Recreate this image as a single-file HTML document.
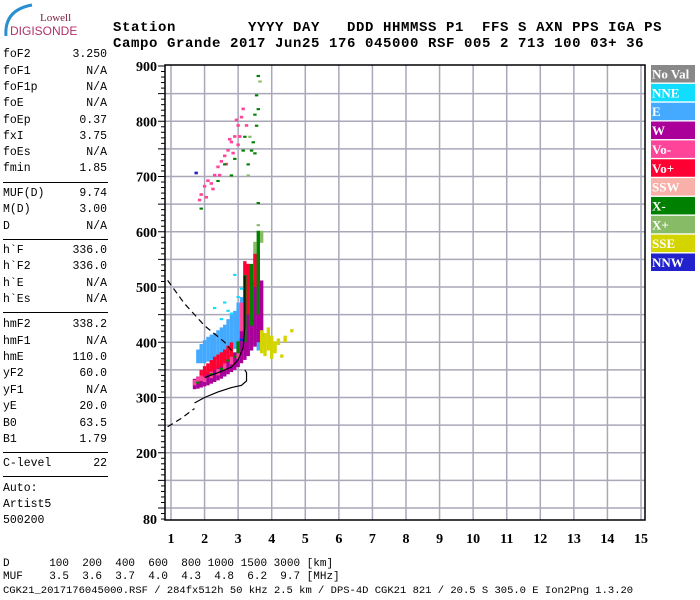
<!DOCTYPE html>
<html><head><meta charset="utf-8">
<style>
body{margin:0;background:#fff;width:700px;height:600px;overflow:hidden;position:relative;font-family:"Liberation Mono",monospace}
.hdr{position:absolute;left:113px;font-weight:bold;font-size:14px;letter-spacing:0.6px;white-space:pre;color:#000}
.row{position:absolute;left:3px;width:104px;font-size:11.5px;height:14px;line-height:14px;color:#000}
.row span{position:absolute;right:0;top:0}
.sep{position:absolute;left:3px;width:105px;height:0;border-top:1px solid #000}
.bot{position:absolute;left:3px;font-size:11px;white-space:pre;color:#000}
</style></head><body>
<div style="position:absolute;left:0;top:0;width:80px;height:45px">
<svg width="80" height="45"><path d="M6 36 Q4 10 32 5" stroke="#2a8fd0" stroke-width="3" fill="none"/></svg>
<div style="position:absolute;left:40px;top:12px;font:11px 'Liberation Serif',serif;color:#7a2040">Lowell</div>
<div style="position:absolute;left:10px;top:24px;font:12px 'Liberation Sans',sans-serif;color:#b0306a">DIGISONDE</div>
</div>
<div class="hdr" style="top:20px">Station        YYYY DAY   DDD HHMMSS P1  FFS S AXN PPS IGA PS</div>
<div class="hdr" style="top:36px">Campo Grande 2017 Jun25 176 045000 RSF 005 2 713 100 03+ 36</div>

<div id="params"></div>

<div class="bot" style="top:558px">D      100  200  400  600  800 1000 1500 3000 [km]</div>
<div class="bot" style="top:571px">MUF    3.5  3.6  3.7  4.0  4.3  4.8  6.2  9.7 [MHz]</div>
<div class="bot" style="top:585px;font-size:10.5px">CGK21_2017176045000.RSF / 284fx512h 50 kHz 2.5 km / DPS-4D CGK21 821 / 20.5 S 305.0 E Ion2Png 1.3.20</div>

<svg id="chart" width="700" height="600" style="position:absolute;left:0;top:0"></svg>

<script>
const paramRows=[["foF2","3.250",55],["foF1","N/A",72],["foF1p","N/A",88],["foE","N/A",104],["foEp","0.37",121],["fxI","3.75",137],["foEs","N/A",153],["fmin","1.85",169],
["MUF(D)","9.74",194],["M(D)","3.00",210],["D","N/A",227],
["h`F","336.0",251],["h`F2","336.0",267],["h`E","N/A",284],["h`Es","N/A",300],
["hmF2","338.2",325],["hmF1","N/A",342],["hmE","110.0",358],["yF2","60.0",374],["yF1","N/A",391],["yE","20.0",407],["B0","63.5",424],["B1","1.79",440],
["C-level","22",464],["Auto:","",489],["Artist5","",505],["500200","",521]];
const seps=[182,239,312,452,476];
const P=document.getElementById('params');
paramRows.forEach(r=>{const d=document.createElement('div');d.className='row';d.style.top=(r[2]-7)+'px';


d.innerHTML=r[0]+(r[1]?'<span>'+r[1]+'</span>':'');P.appendChild(d);});
seps.forEach(y=>{const d=document.createElement('div');d.className='sep';d.style.top=y+'px';


P.appendChild(d);});

const freqTicks=[1,2,3,4,5,6,7,8,9,10,11,12,13,14,15];
const heightTicks=[80,200,300,400,500,600,700,800,900];
const legendNames=["NoVal","NNE","E","W","Vo-","Vo+","SSW","X-","X+","SSE","NNW"];
const legendColors=["#888888","#11ddff","#44aaff","#aa0099","#ff4499","#ff0033","#f8b0a8","#008000","#88bb66","#d4d400","#2222cc"];
// echoes: [freq MHz, hLow km, hHigh km]
const eEchoes=[[1.8,362,385],[1.9,362,395],[2.0,362,402],[2.1,365,408],[2.2,368,412],[2.3,370,415],[2.4,372,420],[2.5,375,425],[2.6,378,430],[2.7,380,440],[2.8,384,448],[2.9,388,455],[3.0,392,470],[3.1,400,480],[3.2,410,470],[3.3,405,465],[3.4,400,455],[3.5,395,445],[3.6,385,430],[3.7,390,415]];
const nneEchoes=[[2.3,460,462],[2.6,470,472],[2.8,450,452],[3.0,480,482],[3.1,495,497],[2.5,440,442],[3.2,490,492],[3.5,545,547],[2.7,455,457],[2.9,520,522]];
const wEchoes=[[1.7,315,332],[1.8,316,336],[1.9,318,340],[2.0,320,343],[2.1,322,346],[2.2,325,350],[2.3,328,354],[2.4,331,358],[2.5,334,362],[2.6,338,366],[2.7,342,370],[2.8,346,375],[2.9,350,380],[3.0,355,390],[3.1,362,420],[3.2,368,480],[3.3,375,540],[3.4,385,510],[3.5,392,505],[3.6,400,560],[3.7,410,510]];
const voPlusEchoes=[[1.9,335,348],[2.0,338,355],[2.1,342,360],[2.2,346,366],[2.3,350,372],[2.4,353,376],[2.5,356,380],[2.6,360,385],[2.7,365,392],[2.8,370,398],[3.2,420,545],[3.3,450,540],[3.5,500,560]];
const voMinusEchoes=[[1.7,322,330],[1.8,325,335],[1.9,330,338],[2.0,328,336],[2.2,335,345],[2.4,340,350],[2.6,350,360],[2.8,360,372],[3.0,370,395],[3.1,420,470],[3.4,440,500],
[1.85,655,658],[1.9,665,668],[2.0,680,683],[2.05,660,663],[2.1,690,693],[2.2,685,688],[2.3,700,703],[2.25,675,678],[2.4,715,718],[2.45,700,703],[2.5,725,728],[2.6,735,738],[2.7,745,748],[2.65,720,723],[2.8,760,763],[2.9,770,773],[2.85,740,743],[3.0,790,793],[3.05,770,773],[3.1,805,808],[3.15,820,823],[3.0,755,758],[2.95,800,803],[3.25,790,793],[2.75,765,768]];
const xMinusEchoes=[[1.8,325,327],[2.2,340,342],[2.5,350,352],[2.7,365,367],[2.9,372,374],[3.0,380,400],[3.2,400,520],[3.4,430,540],[3.6,450,600],
[3.6,880,882],[3.55,845,847],[3.6,820,822],[3.55,790,792],[3.5,810,812],[3.45,760,762],[3.5,740,742],[3.4,745,747],[2.6,720,722],[2.8,700,702],[2.9,730,732],[1.9,640,642],[3.15,745,747],[3.2,770,772],[3.3,720,722],[3.6,650,652],[2.4,690,692]];
const xPlusEchoes=[[3.5,560,580],[3.7,580,600],[3.6,610,612],[3.3,700,702],[3.35,770,772],[3.65,870,872]];
const sseEchoes=[[3.7,380,420],[3.8,375,415],[3.9,385,425],[4.0,370,410],[4.1,380,400],[4.2,395,405],[4.4,400,410],[4.6,418,422],[4.3,372,376]];
const nnwEchoes=[[1.75,704,707],[3.1,402,405]];
const solidCurve=[[1.7,290],[2.0,300],[2.4,310],[2.8,318],[3.1,322],[3.25,330],[3.25,345],[3.2,350]];
const dashedLow=[[0.9,247],[1.3,262],[1.7,280]];
const dashedHigh=[[0.9,512],[1.4,470],[2.0,430],[2.6,400],[2.9,378]];
const traceCurve=[[2.0,336],[2.4,345],[2.8,355],[3.0,368],[3.15,390],[3.2,430],[3.2,520]];

const L=165,R=645,T=65,B=520;
const X=f=>171+(f-1)*(470/14);
const Y=h=>66+(900-h)*0.5525;
const S=document.getElementById('chart');
const NS='http://www.w3.org/2000/svg';
function mk(t,a){const e=document.createElementNS(NS,t);for(const k in a)e.setAttribute(k,a[k]);S.appendChild(e);return e;}

for(let h=100;h<=850;h+=50){const g=mk('line',{x1:L,x2:R,y1:Y(h),y2:Y(h),stroke:'#a8a8b8','stroke-width':1.5});

}
freqTicks.forEach(f=>{const g=mk('line',{x1:X(f),x2:X(f),y1:T,y2:B,stroke:'#a8a8b8','stroke-width':1.5});


const t=mk('text',{x:X(f),y:543,'text-anchor':'middle','font-family':'Liberation Serif,serif','font-weight':'bold','font-size':14});
t.textContent=f;

});
const fr=mk('rect',{x:L,y:T,width:R-L,height:B-T,fill:'none',stroke:'#000','stroke-width':1.5});


for(let h=80;h<=900;h+=10){const big=h%50===0;const tk=mk('line',{x1:L-(big?7:4),x2:L,y1:Y(h),y2:Y(h),stroke:'#000','stroke-width':1});

}
heightTicks.forEach(h=>{const t=mk('text',{x:L-8,y:Y(h)+5,'text-anchor':'end','font-family':'Liberation Serif,serif','font-weight':'bold','font-size':14});
t.textContent=h;

});

function draw(arr,ci,name){arr.forEach(d=>{const y1=Y(d[2]),y2=Y(d[1]);
const r=mk('rect',{x:X(d[0])-1.7,y:y1-1,width:3.4,height:Math.max(2,y2-y1+1),fill:legendColors[ci]});

});}
draw(eEchoes,2,'echo-e');
draw(nneEchoes,1,'echo-nne');
draw(wEchoes,3,'echo-w');
draw(voPlusEchoes,5,'echo-vo-plus');
draw(voMinusEchoes,4,'echo-vo-minus');
draw(xMinusEchoes,7,'echo-x-minus');
draw(xPlusEchoes,8,'echo-x-plus');
draw(sseEchoes,9,'echo-sse');
draw(nnwEchoes,10,'echo-nnw');

function line(arr,dash,name){const p=mk('polyline',{points:arr.map(d=>X(d[0])+','+Y(d[1])).join(' '),fill:'none',stroke:'#000','stroke-width':1.2,'stroke-dasharray':dash||'none'});

}
line(solidCurve,null,'profile-curve');
line(dashedLow,'6,4','profile-extrapolation-low');
line(dashedHigh,'6,4','profile-extrapolation-high');
line(traceCurve,null,'trace-fit-curve');

legendNames.forEach((n,i)=>{const y=65+i*18.85;
const r=mk('rect',{x:651,y:y,width:44,height:17.5,fill:legendColors[i]});


const t=mk('text',{x:652,y:y+13.5,'font-family':'Liberation Serif,serif','font-weight':'bold','font-size':13,fill:'#fff'});
t.textContent=n==="NoVal"?"No Val":n;

});
</script>
</body></html>
